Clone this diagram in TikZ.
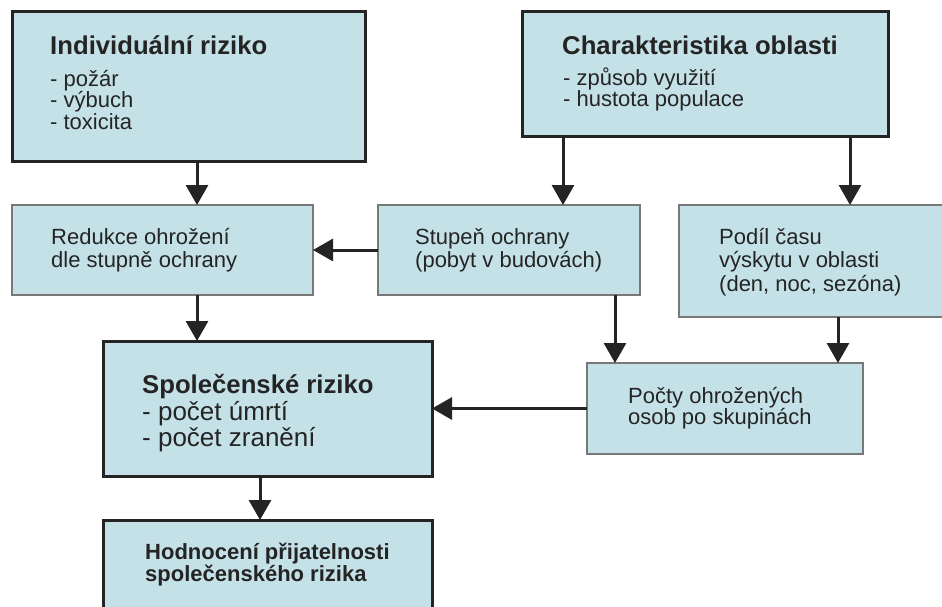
\documentclass[tikz,border=0pt]{standalone}
\usepackage{fontspec}
\setmainfont{Liberation Sans}
\usetikzlibrary{arrows.meta}
\definecolor{boxfill}{RGB}{197,225,232}
\definecolor{ink}{RGB}{36,36,36}
\definecolor{thinline}{RGB}{120,120,120}
\tikzset{
  mainbox/.style={draw=ink, line width=3pt, fill=boxfill, inner sep=0pt, outer sep=0pt, anchor=north west},
  subbox/.style={draw=thinline, line width=1.4pt, fill=boxfill, inner sep=0pt, outer sep=0pt, anchor=north west},
  arr/.style={draw=ink, line width=3pt, -{Triangle[length=20pt,width=22pt]}},
  txt/.style={anchor=base west, inner sep=0pt, text=ink},
  head/.style={txt, font=\fontsize{25.7}{26}\selectfont\bfseries},
  body/.style={txt, font=\fontsize{22}{22}\selectfont},
  bigbody/.style={txt, font=\fontsize{26}{26}\selectfont},
  smallhead/.style={txt, font=\fontsize{22}{22}\selectfont\bfseries}
}
\begin{document}
\begin{tikzpicture}[x=1pt,y=-1pt]
\useasboundingbox[fill=white] (0,0) rectangle (942,607);

% boxes
\node[mainbox, minimum width=353pt, minimum height=149pt] (ind) at (12,12) {};
\node[mainbox, minimum width=366pt, minimum height=125pt] (cha) at (522,12) {};
\node[subbox, minimum width=301pt, minimum height=90pt] (red) at (12,205) {};
\node[subbox, minimum width=262pt, minimum height=90pt] (stu) at (378,205) {};
\node[subbox, minimum width=272pt, minimum height=112pt] (pod) at (679,205) {};
\node[subbox, minimum width=276pt, minimum height=91pt] (poc) at (587,363) {};
\node[mainbox, minimum width=329pt, minimum height=135pt] (spo) at (103,341) {};
\node[mainbox, minimum width=329pt, minimum height=110pt] (hod) at (103,520) {};

% texts
\node[head] (t1) at (50,55) {Individuální riziko};
\node[body] (t1a) at (50,87) {- požár};
\node[body] (t1b) at (50,108) {- výbuch};
\node[body] (t1c) at (50,129) {- toxicita};

\node[head] (t2) at (562,55) {Charakteristika oblasti};
\node[body] (t2a) at (563,86) {- způsob využití};
\node[body] (t2b) at (563,107) {- hustota populace};

\node[body] (t3a) at (51,244) {Redukce ohrožení};
\node[body] (t3b) at (51,267) {dle stupně ochrany};

\node[body] (t4a) at (415,244) {Stupeň ochrany};
\node[body] (t4b) at (415,267) {(pobyt v budovách)};

\node[body] (t5a) at (719,244) {Podíl času};
\node[body] (t5b) at (719,267) {výskytu v oblasti};
\node[body] (t5c) at (719,291) {(den, noc, sezóna)};

\node[body] (t6a) at (628,403) {Počty ohrožených};
\node[body] (t6b) at (628,424) {osob po skupinách};

\node[head] (t7) at (142,393) {Společenské riziko};
\node[bigbody] (t7a) at (142,420) {- počet úmrtí};
\node[bigbody] (t7b) at (142,446) {- počet zranění};

\node[smallhead] (t8a) at (145,559) {Hodnocení přijatelnosti};
\node[smallhead] (t8b) at (145,581) {společenského rizika};

% connector columns
\coordinate (xa) at (197,0);
\coordinate (xb) at (563,0);
\coordinate (xc) at (850,0);
\coordinate (xd) at (615,0);
\coordinate (xe) at (838,0);
\coordinate (xf) at (260,0);

% connectors
\draw[arr] (ind.south -| xa) -- (red.north -| xa);
\draw[arr] (cha.south -| xb) -- (stu.north -| xb);
\draw[arr] (cha.south -| xc) -- (pod.north -| xc);
\draw[arr] (stu.west) -- (red.east);
\draw[arr] (red.south -| xa) -- (spo.north -| xa);
\draw[arr] (stu.south -| xd) -- (poc.north -| xd);
\draw[arr] (pod.south -| xe) -- (poc.north -| xe);
\draw[arr] (poc.west) -- (spo.east);
\draw[arr] (spo.south -| xf) -- (hod.north -| xf);
\end{tikzpicture}
\end{document}
